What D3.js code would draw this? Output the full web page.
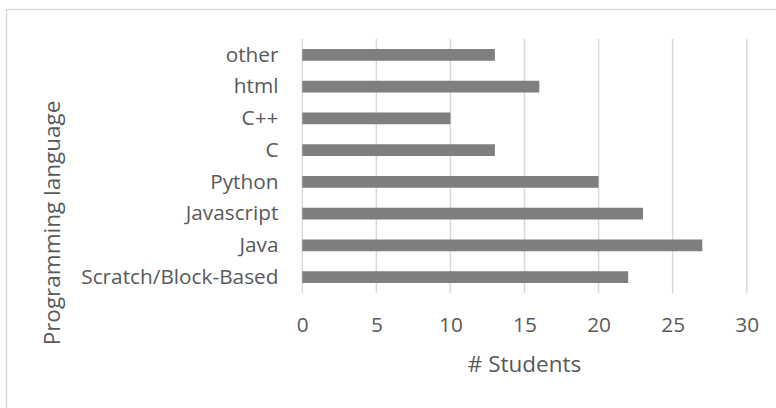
<!DOCTYPE html>
<html>
<head>
<meta charset="utf-8">
<script src="https://cdn.jsdelivr.net/npm/d3@7"></script>
<style>
  html, body { margin: 0; padding: 0; background: #fff; }
  svg { display: block; font-family: "Open Sans", "Noto Sans", sans-serif; }
</style>
</head>
<body>
<svg id="chart" width="776" height="408"></svg>
<script>
// Languages, listed bottom to top as they appear on the axis
const languages = ["Scratch/Block-Based", "Java", "Javascript", "Python", "C", "C++", "html", "other"];
// Number of students per language
const students = [22, 27, 23, 20, 13, 10, 16, 13];
// Tick values along the student axis
const xTicks = [0, 5, 10, 15, 20, 25, 30];

const xTitle = "# Students";
const yTitle = "Programming language";

const svg = d3.select("#chart");
const textColor = "#595959";

// Chart area frame (runs past the right and bottom edges)
svg.append("rect")
  .attr("x", 6.5).attr("y", 9.5)
  .attr("width", 800).attr("height", 420)
  .attr("fill", "#fff")
  .attr("stroke", "#d9d9d9")
  .attr("stroke-width", 1.5);

const plot = { left: 302.3, right: 746.7, top: 39, bottom: 293 };

const x = d3.scaleLinear().domain([0, 30]).range([plot.left, plot.right]);
const y = d3.scaleBand()
  .domain(languages.slice().reverse())
  .range([plot.top, plot.bottom])
  .paddingInner(0.63)
  .paddingOuter(0.315);

// Vertical gridlines
svg.append("g")
  .selectAll("line")
  .data(xTicks)
  .join("line")
  .attr("x1", d => x(d)).attr("x2", d => x(d))
  .attr("y1", plot.top).attr("y2", plot.bottom)
  .attr("stroke", "#d9d9d9")
  .attr("stroke-width", 1.5);

// Bars
svg.append("g")
  .selectAll("rect")
  .data(languages.map((l, i) => ({ lang: l, value: students[i] })))
  .join("rect")
  .attr("x", x(0))
  .attr("y", d => y(d.lang))
  .attr("width", d => x(d.value) - x(0))
  .attr("height", y.bandwidth())
  .attr("fill", "#7f7f7f");

// Category labels
const yAxis = d3.axisLeft(y).tickSize(0).tickPadding(0);
const gy = svg.append("g")
  .attr("transform", `translate(278.5,0)`)
  .call(yAxis);
gy.select(".domain").remove();
gy.selectAll("text")
  .attr("fill", textColor)
  .attr("font-size", "20.8px")
  .attr("font-family", "\"Open Sans\", sans-serif");

// Value labels
const xAxis = d3.axisBottom(x).tickValues(xTicks).tickSize(0).tickPadding(0);
const gx = svg.append("g")
  .attr("transform", `translate(0,${plot.bottom})`)
  .call(xAxis);
gx.select(".domain").remove();
gx.selectAll("text")
  .attr("dy", null)
  .attr("y", 39)
  .attr("fill", textColor)
  .attr("font-size", "20.8px")
  .attr("font-family", "\"Open Sans\", sans-serif");

// Axis titles
svg.append("text")
  .attr("x", x(15)).attr("y", 372)
  .attr("text-anchor", "middle")
  .attr("fill", textColor)
  .attr("font-size", "22.5px")
  .text(xTitle);

svg.append("text")
  .attr("transform", "translate(60,223) rotate(-90)")
  .attr("text-anchor", "middle")
  .attr("fill", textColor)
  .attr("font-size", "22.5px")
  .text(yTitle);
</script>
</body>
</html>
